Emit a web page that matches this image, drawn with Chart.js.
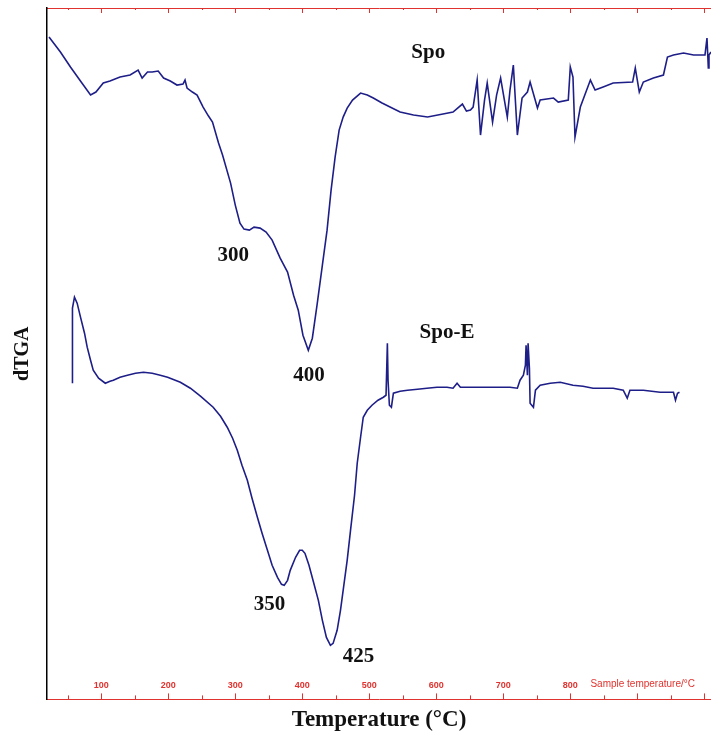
<!DOCTYPE html>
<html>
<head>
<meta charset="utf-8">
<script src="https://cdn.jsdelivr.net/npm/chart.js@4.4.0/dist/chart.umd.min.js"></script>
<style>
  html, body { margin: 0; padding: 0; background: #fff; }
  #wrap { width: 711px; height: 755px; }
</style>
</head>
<body>
<div id="wrap"><canvas id="myChart"></canvas></div>
<script>
  // Spo curve (temperature in °C, dTGA in arbitrary units)
  const spoTemp = [22, 39, 54, 70, 84, 92, 103, 113, 128, 143, 155, 161, 169, 176, 185, 193, 203, 213, 222, 225,
    228, 236, 243, 252, 260, 266, 275, 281, 293, 300, 307, 313, 321, 328, 337, 346, 355, 367, 378, 387,
    394, 401, 409, 415, 422, 430, 437, 443, 449, 455, 461, 467, 475, 487, 497, 506, 519, 531, 546, 566,
    587, 610, 625, 639, 645, 651, 655, 661, 666, 672, 676, 684, 690, 696, 706, 710, 715, 721, 728, 736,
    740, 751, 755, 775, 782, 797, 800, 804, 807, 815, 830, 837, 849, 864, 893, 897, 903, 909, 924, 939,
    945, 954, 969, 984, 1001, 1004, 1006, 1007, 1010];
  const spoDtg = [635, 620, 605, 590, 577, 580, 589, 591, 595, 597, 602, 594, 600, 600, 601, 594, 591, 587, 588, 592,
    584, 580, 577, 565, 556, 550, 529, 517, 489, 467, 449, 443, 442, 445, 444, 440, 432, 414, 400, 377,
    362, 337, 322, 334, 367, 407, 442, 482, 515, 542, 555, 564, 572, 579, 577, 574, 569, 565, 560, 557,
    555, 558, 560, 568, 561, 562, 565, 592, 537, 572, 589, 550, 577, 594, 555, 582, 607, 537, 574, 580,
    590, 564, 572, 574, 570, 572, 605, 595, 535, 565, 592, 582, 585, 589, 590, 604, 580, 590, 594, 597,
    615, 617, 619, 617, 617, 634, 604, 617, 620];

  // Spo-E curve
  const spoeTemp = [57, 57, 60, 64, 69, 75, 79, 84, 88, 96, 106, 113, 118, 128, 139, 151, 163, 176, 188, 199,
    218, 233, 248, 267, 278, 288, 296, 303, 310, 318, 325, 333, 340, 348, 355, 363, 369, 373, 378, 382,
    390, 396, 400, 404, 410, 416, 424, 430, 436, 442, 446, 452, 457, 461, 467, 472, 478, 482, 487, 491,
    497, 504, 513, 521, 525, 527, 528, 530, 533, 536, 546, 557, 572, 586, 601, 616, 625, 631, 636, 655,
    685, 710, 721, 725, 730, 733, 734, 736, 737, 739, 740, 745, 748, 755, 770, 785, 804, 819, 834, 864,
    879, 885, 889, 909, 934, 954, 957, 960, 963];
  const spoeDtg = [289, 364, 375, 369, 355, 339, 325, 312, 302, 294, 289, 291, 292, 295, 297, 299, 300, 299, 297, 295,
    290, 284, 276, 265, 256, 245, 234, 222, 207, 192, 174, 155, 139, 122, 107, 95, 88, 87, 92, 102,
    115, 122, 122, 119, 107, 92, 72, 52, 35, 27, 29, 42, 62, 82, 112, 142, 177, 209, 235, 255,
    262, 267, 272, 275, 277, 329, 292, 267, 265, 279, 281, 282, 283, 284, 285, 285, 284, 289, 285, 285,
    285, 285, 284, 292, 297, 307, 327, 297, 329, 304, 269, 265, 282, 287, 289, 290, 287, 286, 284, 284,
    282, 274, 282, 282, 280, 280, 272, 279, 280];

  const tickValues = [100, 200, 300, 400, 500, 600, 700, 800];
  const tickLabels = ['100', '200', '300', '400', '500', '600', '700', '800'];
  const unitText = 'Sample temperature/°C';

  // peak annotations, anchored in data units
  const peakLabels = [
    {text: 'Spo', t: 588, v: 619},
    {text: '300', t: 297, v: 417},
    {text: '400', t: 410, v: 297},
    {text: 'Spo-E', t: 616, v: 340},
    {text: '350', t: 351, v: 68},
    {text: '425', t: 484, v: 16}
  ];

  const red = '#e0332f';
  const navy = '#1e1e88';

  const toPoints = (ts, vs) => ts.map((t, i) => ({x: t, y: vs[i]}));

  // red ticks and labels sit inside the plot frame, so they are drawn here
  const frameDecor = {
    id: 'frameDecor',
    afterDraw(chart) {
      const {ctx, chartArea: a, scales: {x, y}} = chart;
      ctx.save();
      ctx.strokeStyle = red;
      ctx.lineWidth = 1;
      for (let t = 50; t <= 1000; t += 50) {
        const px = Math.round(x.getPixelForValue(t)) + 0.5;
        const major = t % 100 === 0;
        ctx.beginPath();
        ctx.moveTo(px, a.bottom);
        ctx.lineTo(px, a.bottom - (major ? 6 : 4));
        ctx.moveTo(px, a.top);
        ctx.lineTo(px, a.top + (major ? 5 : 2));
        ctx.stroke();
      }
      ctx.fillStyle = red;
      ctx.font = 'bold 9px "Liberation Sans"';
      ctx.textBaseline = 'middle';
      ctx.textAlign = 'center';
      tickValues.forEach((t, i) => {
        ctx.fillText(tickLabels[i], x.getPixelForValue(t), a.bottom - 14);
      });
      ctx.textAlign = 'left';
      ctx.font = '10px "Liberation Sans"';
      ctx.fillText(unitText, x.getPixelForValue(830), a.bottom - 15);
      // peak labels
      ctx.fillStyle = '#111';
      ctx.font = 'bold 21px "Liberation Serif"';
      ctx.textAlign = 'center';
      peakLabels.forEach(p => {
        ctx.fillText(p.text, x.getPixelForValue(p.t), y.getPixelForValue(p.v));
      });
      ctx.restore();
    }
  };

  new Chart(document.getElementById('myChart'), {
    type: 'line',
    data: {
      datasets: [{
        label: 'Spo',
        data: toPoints(spoTemp, spoDtg),
        borderColor: navy,
        borderWidth: 1.6,
        pointRadius: 0,
        tension: 0,
        fill: false
      }, {
        label: 'Spo-E',
        data: toPoints(spoeTemp, spoeDtg),
        borderColor: navy,
        borderWidth: 1.6,
        pointRadius: 0,
        tension: 0,
        fill: false
      }]
    },
    options: {
      responsive: true,
      maintainAspectRatio: false,
      animation: false,
      layout: {padding: {left: 0, right: 0, top: 8, bottom: 10}},
      plugins: {
        legend: {display: false},
        tooltip: {enabled: false}
      },
      scales: {
        x: {
          type: 'linear',
          position: 'bottom',
          min: 19,
          max: 1010,
          ticks: {display: false},
          grid: {display: false, drawTicks: false},
          border: {color: red, width: 1},
          title: {
            display: true,
            text: 'Temperature (°C)',
            color: '#111',
            font: {family: 'Liberation Serif', size: 23, weight: 'bold'},
            padding: {top: 7, bottom: 11}
          }
        },
        x2: {
          type: 'linear',
          position: 'top',
          min: 19,
          max: 1010,
          ticks: {display: false},
          grid: {display: false, drawTicks: false},
          border: {color: red, width: 1}
        },
        y: {
          min: -27,
          max: 664,
          ticks: {display: false},
          grid: {display: false, drawTicks: false},
          border: {color: '#000', width: 1.5},
          title: {
            display: true,
            text: 'dTGA',
            color: '#111',
            font: {family: 'Liberation Serif', size: 20, weight: 'bold'},
            padding: {top: 11, bottom: 12}
          }
        }
      }
    },
    plugins: [frameDecor]
  });
</script>
</body>
</html>
